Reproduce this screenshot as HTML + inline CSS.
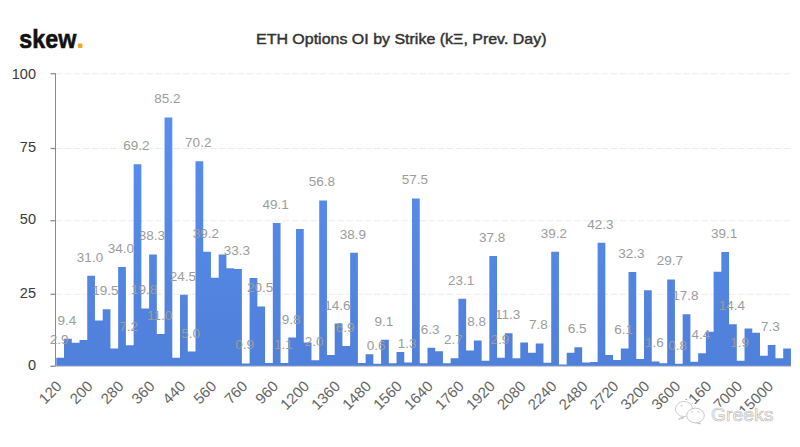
<!DOCTYPE html>
<html><head><meta charset="utf-8"><style>
html,body{margin:0;padding:0;background:#fff;}
body{width:800px;height:447px;overflow:hidden;position:relative;font-family:"Liberation Sans",sans-serif;}
svg{position:absolute;left:0;top:0;}
</style></head><body>
<svg width="800" height="447" viewBox="0 0 800 447">
<defs><linearGradient id="bg" gradientUnits="userSpaceOnUse" x1="0" y1="74" x2="0" y2="366">
<stop offset="0" stop-color="#5b90f4"/><stop offset="1" stop-color="#4f80da"/></linearGradient></defs>

<text x="19.3" y="47.6" font-family="Liberation Sans" font-weight="bold" font-size="26.5" fill="#111" stroke="#111" stroke-width="0.6" textLength="57" lengthAdjust="spacingAndGlyphs">skew</text>
<rect x="77.7" y="43.6" width="4.8" height="4.4" rx="1.2" fill="#f2a72a"/>
<text x="256" y="44.4" font-family="Liberation Sans" font-size="15" fill="#333" stroke="#333" stroke-width="0.45" textLength="290.5" lengthAdjust="spacingAndGlyphs">ETH Options OI by Strike (kΞ, Prev. Day)</text>
<line x1="55.5" y1="294.25" x2="790.5" y2="294.25" stroke="#ececec" stroke-width="1" stroke-dasharray="6.5 2.6"/>
<line x1="55.5" y1="220.75" x2="790.5" y2="220.75" stroke="#ececec" stroke-width="1" stroke-dasharray="6.5 2.6"/>
<line x1="55.5" y1="148.50" x2="790.5" y2="148.50" stroke="#ececec" stroke-width="1" stroke-dasharray="6.5 2.6"/>
<line x1="55.5" y1="73.75" x2="790.5" y2="73.75" stroke="#ececec" stroke-width="1" stroke-dasharray="6.5 2.6"/>
<path d="M56.30 357.74H64.03V366.20H56.30ZM64.03 338.77H71.77V366.20H64.03ZM71.77 342.86H79.50V366.20H71.77ZM79.50 339.94H87.23V366.20H79.50ZM87.23 275.74H94.97V366.20H87.23ZM94.97 320.39H102.70V366.20H94.97ZM102.70 309.30H110.43V366.20H102.70ZM110.43 348.40H118.16V366.20H110.43ZM118.16 266.99H125.90V366.20H118.16ZM125.90 345.19H133.63V366.20H125.90ZM133.63 164.27H141.36V366.20H133.63ZM141.36 308.42H149.10V366.20H141.36ZM149.10 254.44H156.83V366.20H149.10ZM156.83 334.10H164.56V366.20H156.83ZM164.56 117.59H172.30V366.20H164.56ZM172.29 357.74H180.03V366.20H172.29ZM180.03 294.71H187.76V366.20H180.03ZM187.76 351.61H195.49V366.20H187.76ZM195.49 161.36H203.23V366.20H195.49ZM203.23 251.81H210.96V366.20H203.23ZM210.96 277.78H218.69V366.20H210.96ZM218.69 254.44H226.43V366.20H218.69ZM226.43 268.16H234.16V366.20H226.43ZM234.16 269.03H241.89V366.20H234.16ZM241.89 363.57H249.62V366.20H241.89ZM249.62 278.08H257.36V366.20H249.62ZM257.36 306.38H265.09V366.20H257.36ZM265.09 362.99H272.82V366.20H265.09ZM272.82 222.93H280.56V366.20H272.82ZM280.56 362.99H288.29V366.20H280.56ZM288.29 337.60H296.02V366.20H288.29ZM296.02 229.05H303.76V366.20H296.02ZM303.76 342.56H311.49V366.20H303.76ZM311.49 360.36H319.22V366.20H311.49ZM319.22 200.46H326.95V366.20H319.22ZM326.95 355.11H334.69V366.20H326.95ZM334.69 323.60H342.42V366.20H334.69ZM342.42 346.07H350.15V366.20H342.42ZM350.15 252.69H357.89V366.20H350.15ZM357.89 362.99H365.62V366.20H357.89ZM365.62 354.24H373.35V366.20H365.62ZM373.35 363.87H381.09V366.20H373.35ZM381.09 339.65H388.82V366.20H381.09ZM388.82 363.28H396.55V366.20H388.82ZM396.55 351.90H404.29V366.20H396.55ZM404.28 362.41H412.02V366.20H404.28ZM412.02 198.41H419.75V366.20H412.02ZM419.75 363.28H427.48V366.20H419.75ZM427.48 347.82H435.22V366.20H427.48ZM435.22 351.32H442.95V366.20H435.22ZM442.95 363.28H450.68V366.20H442.95ZM450.68 358.32H458.42V366.20H450.68ZM458.42 298.79H466.15V366.20H458.42ZM466.15 350.44H473.88V366.20H466.15ZM473.88 340.52H481.62V366.20H473.88ZM481.62 360.66H489.35V366.20H481.62ZM489.35 255.90H497.08V366.20H489.35ZM497.08 357.74H504.81V366.20H497.08ZM504.81 333.23H512.55V366.20H504.81ZM512.55 358.32H520.28V366.20H512.55ZM520.28 342.56H528.01V366.20H520.28ZM528.01 352.78H535.75V366.20H528.01ZM535.75 343.44H543.48V366.20H535.75ZM543.48 362.70H551.21V366.20H543.48ZM551.21 251.81H558.94V366.20H551.21ZM558.94 364.45H566.68V366.20H558.94ZM566.68 352.78H574.41V366.20H566.68ZM574.41 347.23H582.14V366.20H574.41ZM582.14 362.41H589.88V366.20H582.14ZM589.88 362.11H597.61V366.20H589.88ZM597.61 242.77H605.34V366.20H597.61ZM605.34 355.11H613.08V366.20H605.34ZM613.08 360.07H620.81V366.20H613.08ZM620.81 348.40H628.54V366.20H620.81ZM628.54 271.95H636.27V366.20H628.54ZM636.27 358.90H644.01V366.20H636.27ZM644.01 290.33H651.74V366.20H644.01ZM651.74 361.53H659.47V366.20H651.74ZM659.47 363.28H667.21V366.20H659.47ZM667.21 279.54H674.94V366.20H667.21ZM674.94 363.87H682.67V366.20H674.94ZM682.67 314.26H690.41V366.20H682.67ZM690.41 361.82H698.14V366.20H690.41ZM698.14 353.36H705.87V366.20H698.14ZM705.87 331.77H713.60V366.20H705.87ZM713.60 271.66H721.34V366.20H713.60ZM721.34 252.11H729.07V366.20H721.34ZM729.07 324.18H736.80V366.20H729.07ZM736.80 360.66H744.54V366.20H736.80ZM744.54 328.56H752.27V366.20H744.54ZM752.27 332.64H760.00V366.20H752.27ZM760.00 355.70H767.74V366.20H760.00ZM767.74 344.90H775.47V366.20H767.74ZM775.47 358.32H783.20V366.20H775.47ZM783.20 348.40H790.93V366.20H783.20Z" fill="url(#bg)"/>
<line x1="55.5" y1="73.25" x2="55.5" y2="366.75" stroke="#8a8a8a" stroke-width="1"/>
<line x1="50.5" y1="366.3" x2="791" y2="366.3" stroke="#c8c8c8" stroke-width="1"/>
<line x1="50.5" y1="366.25" x2="55.5" y2="366.25" stroke="#8a8a8a" stroke-width="1.2"/>
<text x="36" y="369.70" text-anchor="end" font-size="14.5" fill="#3a3a3a">0</text>
<line x1="50.5" y1="294.25" x2="55.5" y2="294.25" stroke="#8a8a8a" stroke-width="1.2"/>
<text x="36" y="297.85" text-anchor="end" font-size="14.5" fill="#3a3a3a">25</text>
<line x1="50.5" y1="220.75" x2="55.5" y2="220.75" stroke="#8a8a8a" stroke-width="1.2"/>
<text x="36" y="224.30" text-anchor="end" font-size="14.5" fill="#3a3a3a">50</text>
<line x1="50.5" y1="148.50" x2="55.5" y2="148.50" stroke="#8a8a8a" stroke-width="1.2"/>
<text x="36" y="152.20" text-anchor="end" font-size="14.5" fill="#3a3a3a">75</text>
<line x1="50.5" y1="73.75" x2="55.5" y2="73.75" stroke="#8a8a8a" stroke-width="1.2"/>
<text x="36" y="79.00" text-anchor="end" font-size="14.5" fill="#3a3a3a">100</text>
<text x="59.07" y="343.64" text-anchor="middle" font-size="13.5" fill="#9c9c9c">2.9</text>
<text x="66.80" y="324.67" text-anchor="middle" font-size="13.5" fill="#9c9c9c">9.4</text>
<text x="90.00" y="261.64" text-anchor="middle" font-size="13.5" fill="#9c9c9c">31.0</text>
<text x="105.46" y="295.20" text-anchor="middle" font-size="13.5" fill="#9c9c9c">19.5</text>
<text x="120.93" y="252.89" text-anchor="middle" font-size="13.5" fill="#9c9c9c">34.0</text>
<text x="128.66" y="331.09" text-anchor="middle" font-size="13.5" fill="#9c9c9c">7.2</text>
<text x="136.40" y="150.17" text-anchor="middle" font-size="13.5" fill="#9c9c9c">69.2</text>
<text x="144.13" y="294.32" text-anchor="middle" font-size="13.5" fill="#9c9c9c">19.8</text>
<text x="151.86" y="240.34" text-anchor="middle" font-size="13.5" fill="#9c9c9c">38.3</text>
<text x="159.60" y="320.00" text-anchor="middle" font-size="13.5" fill="#9c9c9c">11.0</text>
<text x="167.33" y="103.49" text-anchor="middle" font-size="13.5" fill="#9c9c9c">85.2</text>
<text x="182.79" y="280.61" text-anchor="middle" font-size="13.5" fill="#9c9c9c">24.5</text>
<text x="190.53" y="337.51" text-anchor="middle" font-size="13.5" fill="#9c9c9c">5.0</text>
<text x="198.26" y="147.26" text-anchor="middle" font-size="13.5" fill="#9c9c9c">70.2</text>
<text x="205.99" y="237.71" text-anchor="middle" font-size="13.5" fill="#9c9c9c">39.2</text>
<text x="236.93" y="254.93" text-anchor="middle" font-size="13.5" fill="#9c9c9c">33.3</text>
<text x="244.66" y="349.47" text-anchor="middle" font-size="13.5" fill="#9c9c9c">0.9</text>
<text x="260.12" y="292.28" text-anchor="middle" font-size="13.5" fill="#9c9c9c">20.5</text>
<text x="275.59" y="208.83" text-anchor="middle" font-size="13.5" fill="#9c9c9c">49.1</text>
<text x="283.32" y="348.89" text-anchor="middle" font-size="13.5" fill="#9c9c9c">1.1</text>
<text x="291.06" y="323.50" text-anchor="middle" font-size="13.5" fill="#9c9c9c">9.8</text>
<text x="314.26" y="346.26" text-anchor="middle" font-size="13.5" fill="#9c9c9c">2.0</text>
<text x="321.99" y="186.36" text-anchor="middle" font-size="13.5" fill="#9c9c9c">56.8</text>
<text x="337.45" y="309.50" text-anchor="middle" font-size="13.5" fill="#9c9c9c">14.6</text>
<text x="345.19" y="331.97" text-anchor="middle" font-size="13.5" fill="#9c9c9c">6.9</text>
<text x="352.92" y="238.59" text-anchor="middle" font-size="13.5" fill="#9c9c9c">38.9</text>
<text x="376.12" y="349.77" text-anchor="middle" font-size="13.5" fill="#9c9c9c">0.6</text>
<text x="383.85" y="325.55" text-anchor="middle" font-size="13.5" fill="#9c9c9c">9.1</text>
<text x="407.05" y="348.31" text-anchor="middle" font-size="13.5" fill="#9c9c9c">1.3</text>
<text x="414.78" y="184.31" text-anchor="middle" font-size="13.5" fill="#9c9c9c">57.5</text>
<text x="430.25" y="333.72" text-anchor="middle" font-size="13.5" fill="#9c9c9c">6.3</text>
<text x="453.45" y="344.22" text-anchor="middle" font-size="13.5" fill="#9c9c9c">2.7</text>
<text x="461.18" y="284.69" text-anchor="middle" font-size="13.5" fill="#9c9c9c">23.1</text>
<text x="476.65" y="326.42" text-anchor="middle" font-size="13.5" fill="#9c9c9c">8.8</text>
<text x="492.11" y="241.80" text-anchor="middle" font-size="13.5" fill="#9c9c9c">37.8</text>
<text x="499.85" y="343.64" text-anchor="middle" font-size="13.5" fill="#9c9c9c">2.9</text>
<text x="507.58" y="319.13" text-anchor="middle" font-size="13.5" fill="#9c9c9c">11.3</text>
<text x="538.51" y="329.34" text-anchor="middle" font-size="13.5" fill="#9c9c9c">7.8</text>
<text x="553.98" y="237.71" text-anchor="middle" font-size="13.5" fill="#9c9c9c">39.2</text>
<text x="577.18" y="333.13" text-anchor="middle" font-size="13.5" fill="#9c9c9c">6.5</text>
<text x="600.38" y="228.67" text-anchor="middle" font-size="13.5" fill="#9c9c9c">42.3</text>
<text x="623.58" y="334.30" text-anchor="middle" font-size="13.5" fill="#9c9c9c">6.1</text>
<text x="631.31" y="257.85" text-anchor="middle" font-size="13.5" fill="#9c9c9c">32.3</text>
<text x="654.51" y="347.43" text-anchor="middle" font-size="13.5" fill="#9c9c9c">1.6</text>
<text x="669.97" y="265.44" text-anchor="middle" font-size="13.5" fill="#9c9c9c">29.7</text>
<text x="677.71" y="349.77" text-anchor="middle" font-size="13.5" fill="#9c9c9c">0.8</text>
<text x="685.44" y="300.16" text-anchor="middle" font-size="13.5" fill="#9c9c9c">17.8</text>
<text x="700.91" y="339.26" text-anchor="middle" font-size="13.5" fill="#9c9c9c">4.4</text>
<text x="724.10" y="238.01" text-anchor="middle" font-size="13.5" fill="#9c9c9c">39.1</text>
<text x="731.84" y="310.08" text-anchor="middle" font-size="13.5" fill="#9c9c9c">14.4</text>
<text x="739.57" y="346.56" text-anchor="middle" font-size="13.5" fill="#9c9c9c">1.9</text>
<text x="770.50" y="330.80" text-anchor="middle" font-size="13.5" fill="#9c9c9c">7.3</text>
<text x="59.57" y="384.00" text-anchor="end" font-size="15" fill="#666" transform="rotate(-45 59.57 384.00)" dy="4.5">120</text>
<text x="90.50" y="384.00" text-anchor="end" font-size="15" fill="#666" transform="rotate(-45 90.50 384.00)" dy="4.5">200</text>
<text x="121.43" y="384.00" text-anchor="end" font-size="15" fill="#666" transform="rotate(-45 121.43 384.00)" dy="4.5">280</text>
<text x="152.36" y="384.00" text-anchor="end" font-size="15" fill="#666" transform="rotate(-45 152.36 384.00)" dy="4.5">360</text>
<text x="183.29" y="384.00" text-anchor="end" font-size="15" fill="#666" transform="rotate(-45 183.29 384.00)" dy="4.5">440</text>
<text x="214.23" y="384.00" text-anchor="end" font-size="15" fill="#666" transform="rotate(-45 214.23 384.00)" dy="4.5">560</text>
<text x="245.16" y="384.00" text-anchor="end" font-size="15" fill="#666" transform="rotate(-45 245.16 384.00)" dy="4.5">760</text>
<text x="276.09" y="384.00" text-anchor="end" font-size="15" fill="#666" transform="rotate(-45 276.09 384.00)" dy="4.5">960</text>
<text x="307.02" y="384.00" text-anchor="end" font-size="15" fill="#666" transform="rotate(-45 307.02 384.00)" dy="4.5">1200</text>
<text x="337.95" y="384.00" text-anchor="end" font-size="15" fill="#666" transform="rotate(-45 337.95 384.00)" dy="4.5">1360</text>
<text x="368.89" y="384.00" text-anchor="end" font-size="15" fill="#666" transform="rotate(-45 368.89 384.00)" dy="4.5">1480</text>
<text x="399.82" y="384.00" text-anchor="end" font-size="15" fill="#666" transform="rotate(-45 399.82 384.00)" dy="4.5">1560</text>
<text x="430.75" y="384.00" text-anchor="end" font-size="15" fill="#666" transform="rotate(-45 430.75 384.00)" dy="4.5">1640</text>
<text x="461.68" y="384.00" text-anchor="end" font-size="15" fill="#666" transform="rotate(-45 461.68 384.00)" dy="4.5">1760</text>
<text x="492.61" y="384.00" text-anchor="end" font-size="15" fill="#666" transform="rotate(-45 492.61 384.00)" dy="4.5">1920</text>
<text x="523.55" y="384.00" text-anchor="end" font-size="15" fill="#666" transform="rotate(-45 523.55 384.00)" dy="4.5">2080</text>
<text x="554.48" y="384.00" text-anchor="end" font-size="15" fill="#666" transform="rotate(-45 554.48 384.00)" dy="4.5">2240</text>
<text x="585.41" y="384.00" text-anchor="end" font-size="15" fill="#666" transform="rotate(-45 585.41 384.00)" dy="4.5">2480</text>
<text x="616.34" y="384.00" text-anchor="end" font-size="15" fill="#666" transform="rotate(-45 616.34 384.00)" dy="4.5">2720</text>
<text x="647.27" y="384.00" text-anchor="end" font-size="15" fill="#666" transform="rotate(-45 647.27 384.00)" dy="4.5">3200</text>
<text x="678.21" y="384.00" text-anchor="end" font-size="15" fill="#666" transform="rotate(-45 678.21 384.00)" dy="4.5">3600</text>
<text x="709.14" y="384.00" text-anchor="end" font-size="15" fill="#666" transform="rotate(-45 709.14 384.00)" dy="4.5">4160</text>
<text x="740.07" y="384.00" text-anchor="end" font-size="15" fill="#666" transform="rotate(-45 740.07 384.00)" dy="4.5">7000</text>
<text x="771.00" y="384.00" text-anchor="end" font-size="15" fill="#666" transform="rotate(-45 771.00 384.00)" dy="4.5">15000</text>
<g>
<ellipse cx="684" cy="409" rx="8.6" ry="7.6" fill="#fff" stroke="#fff" stroke-width="4"/>
<ellipse cx="695.5" cy="415.5" rx="8.8" ry="7.4" fill="#fff" stroke="#fff" stroke-width="4"/>
<text x="711" y="420.5" font-size="19" fill="#fff" stroke="#fff" stroke-width="3" textLength="62.5" lengthAdjust="spacingAndGlyphs">Greeks</text>
<path d="M680.5 417.5 L678.5 419.5 L684 417.8 Z" fill="#fff" stroke="#c4c4c4" stroke-width="0.9" stroke-linejoin="round"/>
<ellipse cx="684" cy="409" rx="8.6" ry="7.6" fill="#fff" stroke="#d0d0d0" stroke-width="1"/>
<circle cx="681.5" cy="405.5" r="1" fill="#cfcfcf"/>
<path d="M698 421.5 L700.5 423.8 L694 422.3 Z" fill="#fff" stroke="#bdbdbd" stroke-width="0.9" stroke-linejoin="round"/>
<ellipse cx="695.5" cy="415.5" rx="8.8" ry="7.4" fill="#fff" stroke="#c8c8c8" stroke-width="1"/>
<circle cx="691.8" cy="411.8" r="0.9" fill="#cfcfcf"/>
<circle cx="698.4" cy="411.8" r="0.9" fill="#cfcfcf"/>
<text x="711" y="420.5" font-size="19" fill="#fff" stroke="#bdbdbd" stroke-width="0.7" textLength="62.5" lengthAdjust="spacingAndGlyphs">Greeks</text>
</g>
</svg></body></html>
